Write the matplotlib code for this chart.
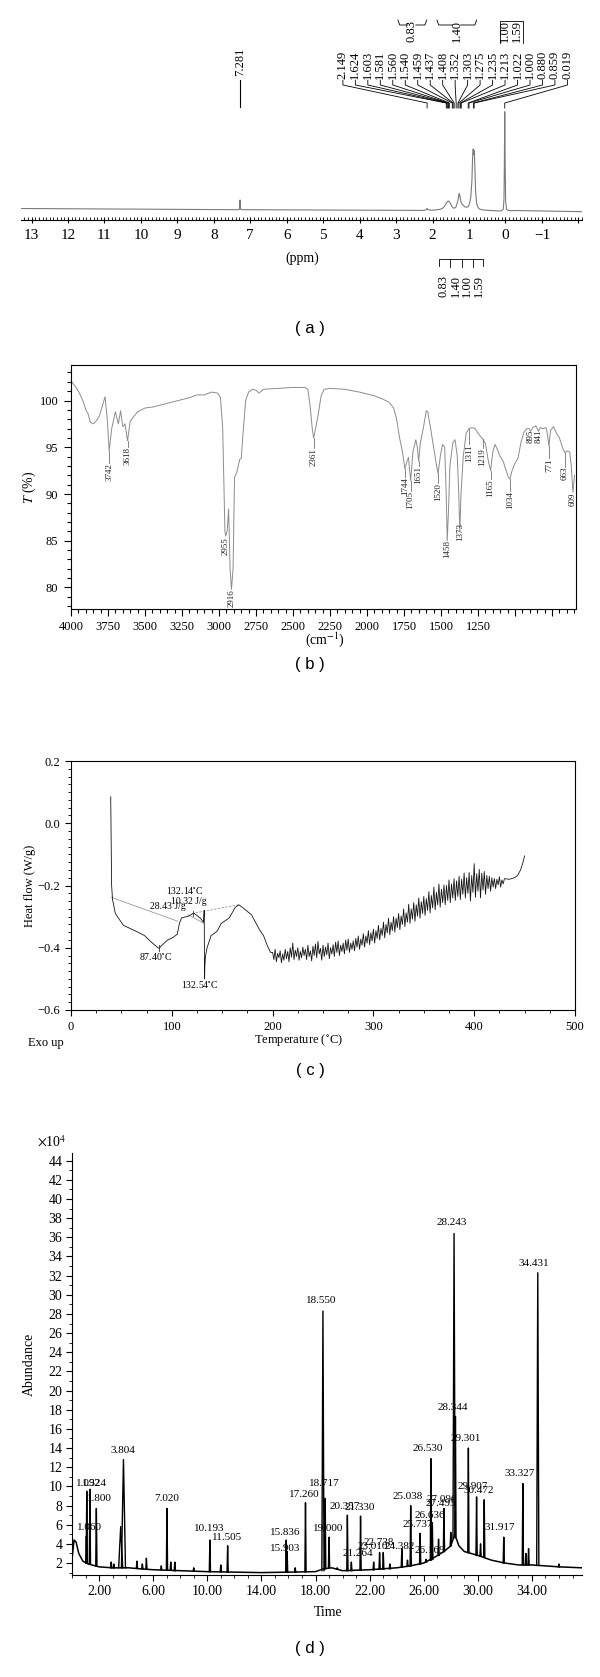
import numpy as np
import matplotlib
matplotlib.use("Agg")
from matplotlib import pyplot as plt
from matplotlib.ticker import MultipleLocator, FixedLocator, FuncFormatter

plt.rcParams['font.family'] = ['Liberation Serif', 'DejaVu Serif']
plt.rcParams['mathtext.fontset'] = 'stix'
plt.rcParams['axes.linewidth'] = 0.8

# ---------------- (a) 1H NMR ----------------
nmr_ppm = [13.29, 7.34, 7.30, 7.286, 7.281, 7.276, 7.26, 7.2, 2.25, 2.17, 2.149, 2.13, 2.05, 1.90,
           1.78, 1.70, 1.64, 1.60, 1.56, 1.52, 1.48, 1.44, 1.40, 1.36, 1.32, 1.29, 1.27, 1.25, 1.23,
           1.20, 1.16, 1.12, 1.07, 1.02, 0.98, 0.95, 0.92, 0.90, 0.885, 0.87, 0.855, 0.84, 0.82,
           0.79, 0.75, 0.70, 0.62, 0.50, 0.35, 0.20, 0.10, 0.06, 0.04, 0.03, 0.019, 0.008, -0.005,
           -0.03, -0.08, -0.15, -0.30, -2.10]
nmr_int = [2.2, 1.0, 1.3, 4.5, 10.7, 4.5, 1.2, 1.0, 0.3, 1.0, 2.4, 1.0, 0.5, 0.8,
           1.5, 3.0, 6.5, 9.0, 9.7, 8.0, 5.0, 3.0, 2.5, 3.5, 8.0, 13.0, 17.4, 15.0, 10.0,
           7.0, 5.5, 4.0, 3.5, 4.0, 8.0, 14.0, 30.0, 55.0, 61.7, 56.0, 60.0, 45.0, 20.0,
           7.0, 3.0, 1.5, 0.8, 0.4, 0.1, -0.3, 0.0, 1.5, 12.0, 45.0, 99.0, 45.0, 10.0,
           1.5, 0.3, 0.0, 0.2, -1.0]
nmr_labels = [2.149, 1.624, 1.603, 1.581, 1.560, 1.540, 1.459, 1.437, 1.408, 1.352, 1.303,
              1.275, 1.235, 1.213, 1.022, 1.000, 0.880, 0.859, 0.019]
nmr_integrals = ['0.83', '1.40', '1.00', '1.59']

# ---------------- (b) FT-IR ----------------
ir_wn = [4000, 3975, 3950, 3920, 3900, 3885, 3870, 3850, 3830, 3810, 3790, 3770, 3755, 3742, 3725,
         3700, 3680, 3665, 3650, 3635, 3618, 3600, 3580, 3550, 3500, 3450, 3400, 3300, 3200, 3150,
         3100, 3050, 3010, 2990, 2975, 2965, 2960, 2955, 2945, 2935, 2925, 2916, 2905, 2895, 2880,
         2860, 2850, 2835, 2820, 2800, 2775, 2750, 2730, 2700, 2600, 2500, 2420, 2400, 2385, 2370,
         2361, 2350, 2330, 2310, 2290, 2250, 2150, 2050, 1950, 1900, 1850, 1820, 1800, 1780, 1760,
         1744, 1730, 1720, 1705, 1690, 1670, 1660, 1651, 1640, 1620, 1600, 1590, 1570, 1550, 1530,
         1520, 1505, 1490, 1475, 1465, 1458, 1450, 1440, 1420, 1405, 1390, 1380, 1373, 1365, 1350,
         1330, 1311, 1290, 1270, 1250, 1230, 1219, 1200, 1180, 1165, 1150, 1135, 1120, 1100, 1080,
         1060, 1045, 1034, 1020, 1000, 980, 960, 940, 920, 905, 895, 880, 860, 850, 841,
         830, 810, 790, 780, 771, 760, 740, 720, 700, 680, 663, 650, 630, 620, 609, 598]
ir_t = [102.1, 101.6, 101.0, 100.0, 99.0, 98.6, 97.7, 97.5, 97.8, 98.3, 99.3, 100.4, 98.0, 94.6, 97.0,
        98.8, 97.5, 98.9, 97.2, 97.5, 95.7, 97.8, 98.2, 98.8, 99.2, 99.3, 99.5, 99.9, 100.3, 100.6,
        100.6, 100.9, 100.8, 100.3, 97.0, 90.0, 86.0, 85.5, 86.0, 88.4, 82.0, 79.8, 82.0, 91.8, 92.3,
        93.7, 93.8, 97.0, 100.0, 100.9, 101.2, 101.1, 100.8, 101.2, 101.3, 101.4, 101.4, 101.2, 99.5, 97.0,
        96.0, 96.8, 98.5, 100.5, 101.2, 101.3, 101.2, 100.9, 100.5, 100.2, 99.8, 99.2, 98.0, 96.0, 94.5,
        92.7, 93.5, 93.9, 91.4, 94.5, 95.8, 95.0, 93.5, 95.5, 97.0, 98.9, 98.8, 97.0, 95.0, 93.0,
        92.2, 94.0, 95.3, 95.0, 90.0, 85.0, 88.0, 93.0, 95.5, 95.8, 94.0, 90.0, 86.0, 90.0, 94.0,
        96.5, 97.0, 97.1, 97.0, 96.5, 96.1, 95.9, 95.4, 93.5, 92.5, 94.5, 95.3, 94.8, 94.0, 93.5,
        92.5, 91.8, 91.6, 92.5, 93.3, 93.8, 95.5, 96.6, 97.0, 97.0, 96.7, 97.1, 97.3, 97.0, 96.7,
        97.1, 97.0, 97.1, 96.3, 95.1, 96.8, 97.2, 96.5, 96.0, 95.0, 94.4, 94.6, 94.5, 93.0, 90.2, 92.0]
ir_peak_wn = [3742, 3618, 2955, 2916, 2361, 1744, 1705, 1651, 1520, 1458, 1373, 1311, 1219, 1165,
              1034, 895, 841, 771, 663, 609]
ir_peak_t = [94.6, 95.7, 85.5, 79.8, 96.0, 92.7, 91.4, 93.5, 92.2, 85.0, 86.0, 97.0, 95.9, 92.5,
             91.6, 96.7, 96.7, 95.1, 94.4, 90.2]

# ---------------- (c) DSC ----------------
dsc_t = [39.4, 39.8, 40.3, 41.2, 44, 52, 64.5, 73, 79, 86, 87.4, 89.5, 95.5, 101.6, 105.5, 107.5,
         109.7, 116, 120, 122, 128, 131.5, 132.14, 132.3, 132.54, 132.8, 133.3, 135, 139, 145, 149,
         157, 163, 166.5, 171.5, 179, 187, 191, 195, 198]
dsc_hf = [0.085, -0.05, -0.20, -0.245, -0.29, -0.328, -0.347, -0.361, -0.380, -0.399, -0.402, -0.394,
          -0.376, -0.366, -0.356, -0.322, -0.304, -0.299, -0.292, -0.289, -0.304, -0.318, -0.28, -0.40,
          -0.50, -0.46, -0.43, -0.40, -0.361, -0.347, -0.322, -0.304, -0.27, -0.262, -0.274, -0.294,
          -0.342, -0.361, -0.395, -0.415]
# noisy region 200-430 C: the signal jumps between high samples (200, 202.5, ...)
# and low samples (201.25, 203.75, ...)
dsc_noise_high = [-0.415, -0.405, -0.418, -0.410, -0.420, -0.405, -0.412, -0.400, -0.385, -0.408,
                  -0.400, -0.412, -0.398, -0.405, -0.392, -0.410, -0.395, -0.388, -0.380, -0.402,
                  -0.392, -0.398, -0.385, -0.400, -0.390, -0.382, -0.378, -0.392, -0.385, -0.375,
                  -0.372, -0.385, -0.378, -0.370, -0.362, -0.372, -0.355, -0.362, -0.345, -0.352,
                  -0.340, -0.345, -0.328, -0.338, -0.318, -0.325, -0.305, -0.318, -0.300, -0.305,
                  -0.290, -0.298, -0.275, -0.288, -0.260, -0.275, -0.255, -0.262, -0.240, -0.252,
                  -0.235, -0.242, -0.220, -0.232, -0.205, -0.222, -0.195, -0.212, -0.198, -0.200,
                  -0.182, -0.195, -0.178, -0.185, -0.170, -0.180, -0.160, -0.175, -0.158, -0.168,
                  -0.130, -0.162, -0.148, -0.160, -0.155, -0.168, -0.170, -0.175, -0.178, -0.180,
                  -0.172, -0.182, -0.178]
dsc_noise_low = [-0.438, -0.445, -0.432, -0.448, -0.440, -0.435, -0.445, -0.430, -0.438, -0.428,
                 -0.440, -0.432, -0.425, -0.438, -0.428, -0.442, -0.425, -0.432, -0.420, -0.440,
                 -0.428, -0.422, -0.435, -0.420, -0.428, -0.415, -0.425, -0.412, -0.420, -0.408,
                 -0.415, -0.405, -0.410, -0.398, -0.405, -0.392, -0.398, -0.385, -0.390, -0.378,
                 -0.385, -0.370, -0.375, -0.360, -0.368, -0.352, -0.358, -0.345, -0.350, -0.335,
                 -0.342, -0.325, -0.332, -0.318, -0.322, -0.308, -0.315, -0.298, -0.305, -0.290,
                 -0.296, -0.280, -0.288, -0.272, -0.278, -0.262, -0.270, -0.255, -0.262, -0.248,
                 -0.255, -0.240, -0.248, -0.235, -0.245, -0.228, -0.240, -0.225, -0.250, -0.222,
                 -0.238, -0.218, -0.240, -0.215, -0.228, -0.210, -0.218, -0.205, -0.210, -0.198,
                 -0.205, -0.195]
dsc_tail_t = [435, 440, 443, 446, 448, 450]
dsc_tail_hf = [-0.180, -0.175, -0.168, -0.150, -0.130, -0.105]
dsc_base1_t, dsc_base1_hf = [40, 106], [-0.238, -0.315]
dsc_base2_t, dsc_base2_hf = [116, 132], [-0.294, -0.322]
dsc_base3_t, dsc_base3_hf = [120, 166], [-0.290, -0.262]

# ---------------- (d) GC-MS ----------------
gc_base_t = [0.0, 0.15, 0.3, 0.5, 0.8, 1.2, 2.0, 3.0, 4.2, 5.0, 6.0, 8.0, 10.0, 12.0, 14.0, 16.0,
             18.0, 18.6, 19.2, 20.0, 22.0, 24.0, 25.0, 26.0, 26.8, 27.5, 28.0, 28.3, 28.6, 29.0,
             30.0, 31.0, 32.0, 33.0, 34.0, 35.0, 36.0, 37.7]
gc_base_v = [2.4, 4.4, 4.2, 3.0, 2.2, 1.9, 1.6, 1.5, 1.5, 1.4, 1.3, 1.2, 1.1, 1.05, 1.0, 1.05,
             1.1, 1.4, 1.5, 1.2, 1.3, 1.5, 1.7, 2.0, 2.6, 3.2, 3.8, 5.0, 3.8, 3.2,
             2.8, 2.3, 2.0, 1.8, 1.8, 1.7, 1.6, 1.5]
gc_peak_t = [1.060, 1.092, 1.324, 1.800, 2.90, 3.10, 3.600, 3.804, 4.80, 5.20, 5.50, 6.60, 7.020,
             7.30, 7.60, 9.00, 10.193, 11.00, 11.505, 15.836, 15.903, 16.50, 17.260, 18.550, 18.717,
             19.000, 19.60, 20.357, 20.65, 21.330, 22.30, 22.738, 23.010, 23.50, 24.382, 24.80,
             25.038, 25.737, 26.169, 26.530, 26.636, 27.096, 27.495, 28.000, 28.243, 28.344, 29.301,
             29.907, 30.200, 30.472, 31.917, 33.327, 33.550, 33.750, 34.431, 36.00]
gc_peak_h = [4.8, 9.5, 9.7, 7.7, 2.1, 1.9, 5.8, 12.8, 2.2, 1.9, 2.5, 1.7, 7.7,
             2.1, 2.1, 1.5, 4.4, 1.8, 3.8, 4.4, 3.2, 1.5, 8.3, 28.3, 8.75,
             4.7, 1.5, 7.0, 2.1, 6.9, 2.1, 3.1, 3.1, 1.9, 3.5, 2.3,
             8.0, 5.1, 2.4, 12.9, 6.2, 4.5, 7.7, 5.2, 36.4, 17.3, 14.0,
             8.9, 4.0, 8.6, 4.7, 10.3, 3.0, 3.5, 32.3, 1.9]
gc_peak_base = [2.0, 2.0, 1.9, 1.7, 1.5, 1.5, 1.5, 1.5, 1.45, 1.4, 1.35, 1.3, 1.25,
                1.25, 1.2, 1.15, 1.1, 1.1, 1.05, 1.05, 1.05, 1.05, 1.1, 1.2, 1.4,
                1.5, 1.4, 1.2, 1.2, 1.25, 1.3, 1.35, 1.35, 1.4, 1.55, 1.65,
                1.7, 1.9, 2.1, 2.3, 2.4, 2.8, 3.2, 3.8, 4.6, 4.8, 3.1,
                2.8, 2.7, 2.6, 2.0, 1.8, 1.8, 1.8, 1.75, 1.6]
gc_labels = ['1.092', '1.324', '1.800', '1.060', '3.804', '7.020', '10.193', '11.505', '15.836',
             '15.903', '17.260', '18.550', '18.717', '19.000', '20.357', '21.330', '21.264',
             '22.738', '23.010', '24.382', '25.038', '25.737', '26.169', '26.530', '26.636',
             '27.096', '27.495', '28.243', '28.344', '29.301', '29.907', '30.472', '31.917',
             '33.327', '34.431']

W, H = 600, 1677
fig = plt.figure(figsize=(W / 100, H / 100), dpi=100)


def axes_px(left, top, right, bottom):
    return fig.add_axes([left / W, 1 - bottom / H, (right - left) / W, (bottom - top) / H])


def fig_text(x, y, s, **kw):
    fig.text(x / W, 1 - y / H, s, **kw)


def minus(v, fmt):
    return (fmt % v).replace('-', '\u2212')


# ===== (a) =====
ax = axes_px(21, 0, 582, 220)
ax.plot(nmr_ppm, nmr_int, color='#7a7a7a', lw=0.8)
ax.set_xlim(13.29, -2.1)
ax.set_ylim(-9.3, 210.7)
for s in ['top', 'right', 'left']:
    ax.spines[s].set_visible(False)
ax.set_yticks([])
ax.xaxis.set_major_locator(FixedLocator(range(13, -3, -1)))
ax.xaxis.set_major_formatter(FuncFormatter(lambda v, p: '' if v < -1.5 else minus(v, '%d')))
ax.xaxis.set_minor_locator(MultipleLocator(0.1))
ax.tick_params(which='major', direction='inout', length=5, width=0.8, labelsize=11, pad=4)
ax.tick_params(which='minor', direction='in', length=2.5, width=0.6)

lab_x = np.linspace(4.46, -1.70, len(nmr_labels))   # fanned label positions
for lx, p in zip(lab_x, nmr_labels):
    ax.text(lx, 131.5, '%.3f' % p, rotation=90, ha='center', va='bottom', fontsize=9)
    ax.plot([lx, lx, p, p], [130.5, 125.7, 107.7, 102.7], color='k', lw=0.6)
ax.text(7.281, 134.5, '7.281', rotation=90, ha='center', va='bottom', fontsize=9)
ax.plot([7.281, 7.281], [130.7, 103.7], color='k', lw=0.8)

# integrals on top
ax.text(2.57, 179.5, nmr_integrals[0], rotation=90, ha='center', va='center', fontsize=9)
ax.plot([2.95, 2.90, 2.68], [190.7, 185.7, 185.7], color='k', lw=0.6)
ax.plot([2.46, 2.21, 2.16], [185.7, 185.7, 190.7], color='k', lw=0.6)
ax.text(1.34, 179.5, nmr_integrals[1], rotation=90, ha='center', va='center', fontsize=9)
ax.plot([1.88, 1.83, 1.45], [190.7, 185.7, 185.7], color='k', lw=0.6)
ax.plot([1.23, 0.84, 0.79], [185.7, 185.7, 190.7], color='k', lw=0.6)
ax.text(0.02, 179.5, nmr_integrals[2], rotation=90, ha='center', va='center', fontsize=9)
ax.text(-0.31, 179.5, nmr_integrals[3], rotation=90, ha='center', va='center', fontsize=9)
ax.plot([0.16, 0.16, -0.47, -0.47], [168, 190, 190, 168], color='k', lw=0.6)

# integrals below the axis
for xi, s in zip([1.69, 1.36, 1.05, 0.74], nmr_integrals):
    ax.text(xi, -75, s, rotation=90, ha='center', va='center', fontsize=9, clip_on=False)
ax.plot([1.82, 1.82, 0.62, 0.62], [-55, -48, -48, -55], color='k', lw=0.6, clip_on=False)
for xi in [1.52, 1.20, 0.90]:
    ax.plot([xi, xi], [-48, -56], color='k', lw=0.6, clip_on=False)
fig_text(302, 258, '(ppm)', ha='center', va='center', fontsize=10)
fig_text(310, 329, '( a )', ha='center', va='center', fontsize=12, family='Liberation Sans')

# ===== (b) =====
ax = axes_px(71, 365, 576, 609)
ax.plot(ir_wn, ir_t, color='#8c8c8c', lw=0.7)
ax.set_xlim(4000, 588)
ax.set_ylim(77.7, 103.8)
ax.xaxis.set_major_locator(MultipleLocator(250))
ax.xaxis.set_major_formatter(FuncFormatter(lambda v, p: '%d' % v if v >= 1250 else ''))
ax.xaxis.set_minor_locator(MultipleLocator(50))
ax.yaxis.set_major_locator(MultipleLocator(5))
ax.yaxis.set_minor_locator(MultipleLocator(1))
ax.tick_params(which='major', direction='out', length=5, width=0.8, labelsize=9, pad=4)
ax.tick_params(which='minor', direction='out', length=2.7, width=0.8)
ir_label_top = [93.3, 95.0, 85.4, 79.8, 94.9, 91.8, 90.3, 93.0, 91.2, 85.1, 86.9, 95.3, 94.9, 91.6,
                90.3, 96.9, 96.9, 93.8, 92.9, 90.1]
for w, pt, lt in zip(ir_peak_wn, ir_peak_t, ir_label_top):
    if pt - lt > 0.2:
        ax.plot([w, w], [pt, lt], color='#555555', lw=0.5)
    ax.text(w, lt, str(w), rotation=90, ha='center', va='top', fontsize=6.5, color='#222222')
fig_text(29, 487, r'$\it{T}$ (%)', rotation=90, ha='center', va='center', fontsize=10)
fig_text(325, 640, r'(cm$^{-1}$)', ha='center', va='center', fontsize=10)
fig_text(310, 665, '( b )', ha='center', va='center', fontsize=12, family='Liberation Sans')

# ===== (c) =====
ax = axes_px(71, 761, 575, 1010)
t_all = np.concatenate([dsc_t, np.linspace(200, 430, len(dsc_noise_high)),
                        np.linspace(201.25, 428.75, len(dsc_noise_low)), dsc_tail_t])
hf_all = np.concatenate([dsc_hf, dsc_noise_high, dsc_noise_low, dsc_tail_hf])
order = np.argsort(t_all, kind='stable')
ax.plot(dsc_base1_t, dsc_base1_hf, color='#9a9a9a', lw=0.6)
ax.plot(dsc_base2_t, dsc_base2_hf, color='#9a9a9a', lw=0.6)
ax.plot(dsc_base3_t, dsc_base3_hf, color='#9a9a9a', lw=0.6, ls=(0, (3, 1.5)))
ax.plot(t_all[order], hf_all[order], color='#151515', lw=0.6)
ax.plot([87.4, 87.4], [-0.392, -0.412], color='#333333', lw=0.6)
ax.plot([121, 121], [-0.283, -0.298], color='#333333', lw=0.6)
ax.set_xlim(0, 500)
ax.set_ylim(-0.6, 0.2)
ax.xaxis.set_major_locator(MultipleLocator(100))
ax.xaxis.set_minor_locator(MultipleLocator(25))
ax.yaxis.set_major_locator(MultipleLocator(0.2))
ax.yaxis.set_minor_locator(MultipleLocator(0.025))
ax.yaxis.set_major_formatter(FuncFormatter(lambda v, p: minus(v, '%.1f')))
ax.tick_params(which='major', direction='out', length=4, width=0.8, labelsize=9, pad=4)
ax.tick_params(which='minor', direction='out', length=2, width=0.6)
ax.text(84, -0.431, '87.40$^{\\circ}$C', ha='center', va='center', fontsize=7)
ax.text(128, -0.52, '132.54$^{\\circ}$C', ha='center', va='center', fontsize=7)
ax.text(113, -0.219, '132.14$^{\\circ}$C', ha='center', va='center', fontsize=7)
ax.text(117, -0.251, '10.32 J/g', ha='center', va='center', fontsize=7)
ax.text(96, -0.268, '28.43 J/g', ha='center', va='center', fontsize=7)
fig_text(30, 886, 'Heat flow (W/g)', rotation=90, ha='center', va='center', fontsize=9)
fig_text(298, 1040, 'Temperature ($^{\\circ}$C)', ha='center', va='center', fontsize=9)
fig_text(46, 1043, 'Exo up', ha='center', va='center', fontsize=9)
fig_text(310, 1070, '( c )', ha='center', va='center', fontsize=12, family='Liberation Sans')

# ===== (d) =====
ax = axes_px(72, 1153, 582, 1575)
ax.plot(gc_base_t, gc_base_v, color='k', lw=1.1)
hw = {3.600: 0.15, 3.804: 0.15, 18.550: 0.08, 28.243: 0.08, 34.431: 0.08}
for t, h, b in zip(gc_peak_t, gc_peak_h, gc_peak_base):
    w = hw.get(t, 0.045)
    ax.plot([t - w, t, t + w], [b, h, b], color='k', lw=1.0)
gc_label_pos = [(1.20, 10.3), (1.63, 10.3), (2.00, 8.7), (1.26, 5.7), (3.76, 13.7), (7.03, 8.7),
                (10.15, 5.6), (11.43, 4.7), (15.75, 5.2), (15.75, 3.5), (17.2, 9.2), (18.4, 29.4),
                (18.68, 10.3), (18.9, 5.65), (20.18, 7.9), (21.3, 7.8), (21.1, 3.0), (22.7, 4.1),
                (22.2, 3.7), (24.2, 3.75), (24.84, 8.9), (25.58, 6.0), (26.43, 3.3), (26.29, 14.0),
                (26.49, 7.0), (27.34, 8.6), (27.26, 8.2), (28.05, 37.5), (28.14, 18.2), (29.1, 15.0),
                (29.6, 10.0), (30.1, 9.55), (31.66, 5.7), (33.08, 11.3), (34.16, 33.3)]
for s, (lx, ly) in zip(gc_labels, gc_label_pos):
    ax.text(lx, ly, s, ha='center', va='center', fontsize=8)
ax.set_xlim(0, 37.7)
ax.set_ylim(0.75, 44.8)
for s in ['top', 'right']:
    ax.spines[s].set_visible(False)
ax.xaxis.set_major_locator(FixedLocator(np.arange(2, 36, 4)))
ax.xaxis.set_major_formatter(FuncFormatter(lambda v, p: '%.2f' % v))
ax.xaxis.set_minor_locator(MultipleLocator(1))
ax.yaxis.set_major_locator(FixedLocator(np.arange(2, 46, 2)))
ax.yaxis.set_minor_locator(MultipleLocator(1))
ax.tick_params(which='major', direction='out', length=4, width=0.8, labelsize=10, pad=3)
ax.tick_params(which='minor', direction='out', length=2, width=0.6)
fig_text(52, 1142, r'$\times$10$^4$', ha='center', va='center', fontsize=10)
fig_text(29, 1364, 'Abundance', rotation=90, ha='center', va='center', fontsize=10)
fig_text(328, 1612, 'Time', ha='center', va='center', fontsize=10)
fig_text(310, 1648, '( d )', ha='center', va='center', fontsize=12, family='Liberation Sans')

plt.savefig('out.png', dpi=100)
